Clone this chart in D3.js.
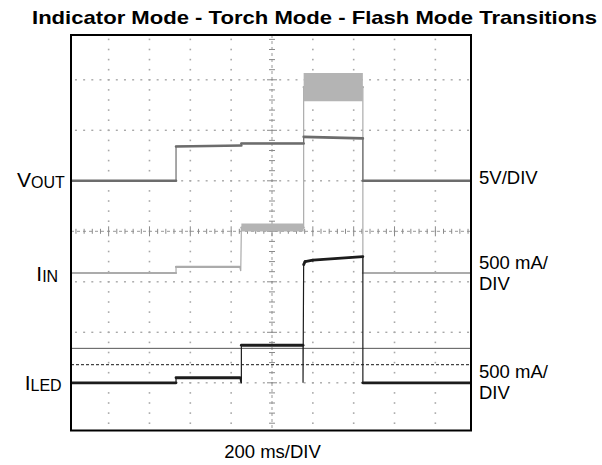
<!DOCTYPE html>
<html>
<head>
<meta charset="utf-8">
<script src="https://cdn.jsdelivr.net/npm/d3@7"></script>
<style>
  body { margin: 0; background: #fff; }
  svg { display: block; font-family: "Liberation Sans", Arial, sans-serif; }
</style>
</head>
<body>
<div class="scope"></div>
<script>
// scope capture, values (time in ms, V and mA)
const voutTime = [0, 530, 530, 850, 850, 1155, 1155, 1445, 1445, 2000]
const voutVolts = [3.6, 3.6, 7.0, 7.1, 7.3, 7.3, 7.95, 7.8, 3.6, 3.6]

const iinTime = [0, 530, 530, 842, 847, 850, 1155, 1155, 1445, 1445, 2000]
const iinMa = [0, 0, 60, 60, 20, 450, 450, 1840, 1840, 0, 0]
// noisy parts of the input current shown as bands
const iinBandStart = [850, 1155]
const iinBandEnd = [1155, 1445]
const iinBandLow = [410, 1700]
const iinBandHigh = [490, 1980]

const iledTime = [0, 530, 530, 843, 848, 850, 850, 1152, 1152, 1155, 1162, 1200, 1445, 1445, 2000]
const iledMa = [0, 0, 50, 50, 0, 0, 372, 372, 0, 1170, 1200, 1215, 1250, 0, 0]

// cursor lines, in ILED units
const cursorSolidMa = 341
const cursorDashMa = 179

const rightLabels = [["5V/DIV"], ["500 mA/", "DIV"], ["500 mA/", "DIV"]]

const dimensions = { width: 602, height: 465 }
const frame = { left: 71, right: 471, top: 35, bottom: 430.5 }

const svg = d3.select(".scope")
    .append("svg")
    .attr("width", dimensions.width)
    .attr("height", dimensions.height)

// 10 x 8 graticule, 200 ms per division
const x = d3.scaleLinear().domain([0, 2000]).range([67.8, 476.2])
const yDiv = d3.scaleLinear().domain([-4, 4]).range([433.3, 29.3])

// each channel: ground position in divisions and units per division
const channels = {
    vout: { offset: 0.28, perDiv: 5 },
    iin: { offset: -0.826, perDiv: 500 },
    iled: { offset: -3.0, perDiv: 500 }
}
const yOf = (ch, v) => yDiv(channels[ch].offset + v / channels[ch].perDiv)

svg.append("clipPath").attr("id", "clip")
    .append("rect")
    .attr("x", frame.left).attr("y", frame.top)
    .attr("width", frame.right - frame.left)
    .attr("height", frame.bottom - frame.top)

const plot = svg.append("g").attr("clip-path", "url(#clip)")

// dotted grid
const minorY = d3.range(-20, 21).map(j => j / 5)
const minorX = d3.range(0, 51).map(m => m * 40)

d3.range(1, 10).filter(i => i != 5).forEach(i => {
    plot.append("g").selectAll("rect")
        .data(minorY)
        .join("rect")
        .attr("x", x(i * 200) - 0.8)
        .attr("y", d => yDiv(d) - 0.8)
        .attr("width", 1.6).attr("height", 1.6)
        .attr("fill", "#a8a8a8")
})

d3.range(-3, 4).filter(k => k != 0).forEach(k => {
    plot.append("g").selectAll("rect")
        .data(minorX)
        .join("rect")
        .attr("x", d => x(d) - 1)
        .attr("y", yDiv(k) - 0.7)
        .attr("width", 2).attr("height", 1.4)
        .attr("fill", "#a8a8a8")
})

// centre axes with ticks
plot.append("line")
    .attr("x1", frame.left).attr("x2", frame.right)
    .attr("y1", yDiv(0)).attr("y2", yDiv(0))
    .attr("stroke", "#999").attr("stroke-dasharray", "3,3")
plot.append("line")
    .attr("x1", x(1000)).attr("x2", x(1000))
    .attr("y1", frame.top).attr("y2", frame.bottom)
    .attr("stroke", "#999").attr("stroke-dasharray", "3,3")

plot.append("g").selectAll("line")
    .data(minorX)
    .join("line")
    .attr("x1", d => x(d)).attr("x2", d => x(d))
    .attr("y1", d => yDiv(0) - (d % 200 == 0 ? 5 : 2.5))
    .attr("y2", d => yDiv(0) + (d % 200 == 0 ? 5 : 2.5))
    .attr("stroke", "#8a8a8a")

plot.append("g").selectAll("line")
    .data(minorY)
    .join("line")
    .attr("y1", d => yDiv(d)).attr("y2", d => yDiv(d))
    .attr("x1", d => x(1000) - (Number.isInteger(d) ? 5 : 3))
    .attr("x2", d => x(1000) + (Number.isInteger(d) ? 5 : 3))
    .attr("stroke", "#8a8a8a")

// cursors
plot.append("line")
    .attr("x1", frame.left).attr("x2", frame.right)
    .attr("y1", yOf("iled", cursorSolidMa)).attr("y2", yOf("iled", cursorSolidMa))
    .attr("stroke", "#555").attr("stroke-width", 1)
plot.append("line")
    .attr("x1", frame.left).attr("x2", frame.right)
    .attr("y1", yOf("iled", cursorDashMa)).attr("y2", yOf("iled", cursorDashMa))
    .attr("stroke", "#444").attr("stroke-width", 1.3)
    .attr("stroke-dasharray", "3,2")

function drawTrace(ch, times, values, color, width)
{
    const pts = times.map((t, i) => [t, values[i]])
    const line = d3.line().x(d => x(d[0])).y(d => yOf(ch, d[1]))

    // thin edges
    plot.append("path")
        .attr("d", line(pts))
        .attr("fill", "none")
        .attr("stroke", color)
        .attr("stroke-width", 1.2)

    // thicker, noisy looking levels
    const levels = d3.pairs(pts).filter(p => p[1][0] - p[0][0] > 5)
    plot.append("g").selectAll("path")
        .data(levels)
        .join("path")
        .attr("d", d => line(d))
        .attr("fill", "none")
        .attr("stroke", color)
        .attr("stroke-width", width)
        .attr("stroke-linecap", "round")
}

drawTrace("iin", iinTime, iinMa, "#ababab", 2.2)

// input current bands, over the trace
const bands = iinBandStart.map((s, i) => [
    { t: s, lo: iinBandLow[i], hi: iinBandHigh[i] },
    { t: iinBandEnd[i], lo: iinBandLow[i], hi: iinBandHigh[i] }
])
const area = d3.area()
    .x(d => x(d.t))
    .y0(d => yOf("iin", d.lo))
    .y1(d => yOf("iin", d.hi))
plot.append("g").selectAll("path")
    .data(bands)
    .join("path")
    .attr("d", area)
    .attr("fill", "#b4b4b4")

drawTrace("vout", voutTime, voutVolts, "#6c6c6c", 2.6)
drawTrace("iled", iledTime, iledMa, "#1c1c1c", 2.8)

// frame
svg.append("rect")
    .attr("x", frame.left).attr("y", frame.top)
    .attr("width", frame.right - frame.left)
    .attr("height", frame.bottom - frame.top)
    .attr("fill", "none")
    .attr("stroke", "#000")
    .attr("stroke-width", 2)

// title
svg.append("text")
    .attr("x", 32).attr("y", 24)
    .attr("font-size", 19)
    .attr("font-weight", "bold")
    .attr("textLength", 565)
    .attr("lengthAdjust", "spacingAndGlyphs")
    .text("Indicator Mode - Torch Mode - Flash Mode Transitions")

// channel names, left
const leftLabels = [
    { main: "V", sub: "OUT", x: 17, y: 186.7 },
    { main: "I", sub: "IN", x: 36.3, y: 281 },
    { main: "I", sub: "LED", x: 24.7, y: 390 }
]
leftLabels.forEach(d => {
    const t = svg.append("text").attr("x", d.x).attr("y", d.y).attr("font-size", 21)
    t.append("tspan").text(d.main)
    t.append("tspan").attr("font-size", 16).attr("dy", 1).text(d.sub)
})

// scale per division, right
const rightY = [183.5, 268.5, 377.5]
rightLabels.forEach((lines, i) => {
    const t = svg.append("text").attr("x", 479).attr("y", rightY[i]).attr("font-size", 18.5)
    lines.forEach((s, j) => {
        t.append("tspan").attr("x", 479).attr("dy", j == 0 ? 0 : 21.5).text(s)
    })
})

svg.append("text")
    .attr("x", 272.5).attr("y", 458.3)
    .attr("text-anchor", "middle")
    .attr("font-size", 18.5)
    .text("200 ms/DIV")
</script>
</body>
</html>
